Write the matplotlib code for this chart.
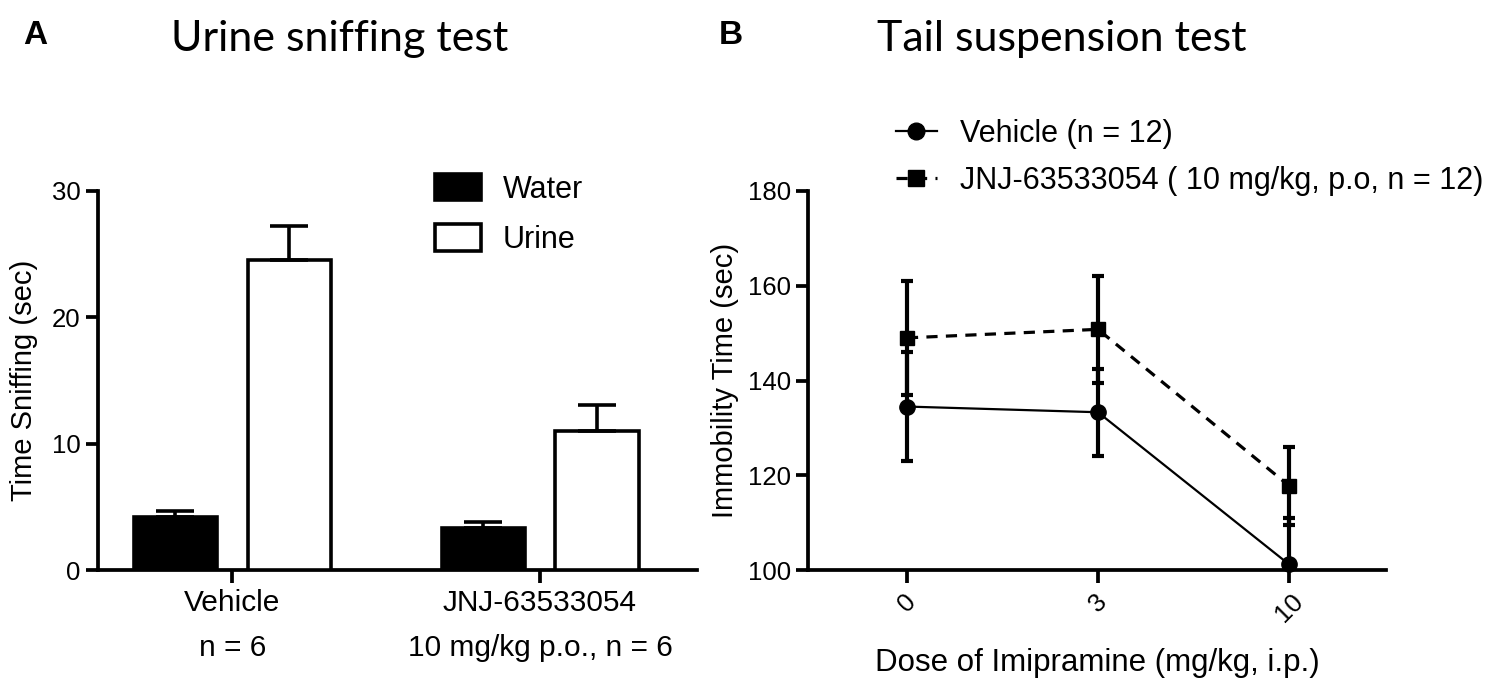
import matplotlib
matplotlib.use('Agg')
import matplotlib.pyplot as plt
import numpy as np
from matplotlib.lines import Line2D
from matplotlib.patches import Patch

# ---- data: panel A (urine sniffing) ----
groups = ['Vehicle\nn = 6', 'JNJ-63533054\n10 mg/kg p.o., n = 6']
water = [4.2, 3.3]
water_err = [0.5, 0.5]
urine = [24.5, 11.0]
urine_err = [2.7, 2.1]

# ---- data: panel B (tail suspension) ----
doses = ['0', '3', '10']
veh = [134.5, 133.3, 101.2]
veh_err = [11.5, 9.2, 9.8]
jnj = [149.0, 150.8, 117.8]
jnj_err = [12.0, 11.3, 8.2]

plt.rcParams['font.family'] = ['Liberation Sans', 'DejaVu Sans']
plt.rcParams['axes.linewidth'] = 2.7

fig = plt.figure(figsize=(15.09, 6.97), dpi=100)
W, H = 1509, 697

# ---------------- panel A ----------------
ax1 = fig.add_axes([98/W, 1 - 570/H, 599/W, 379/H])
x = np.arange(len(groups))
off, w = 0.185, 0.27
ekw = dict(elinewidth=2.6, capthick=2.6)
ax1.bar(x - off, water, w, color='black', edgecolor='black', linewidth=2.6,
        yerr=[[0, 0], water_err], capsize=14, error_kw=ekw, zorder=3)
ax1.bar(x + off, urine, w, color='white', edgecolor='black', linewidth=2.6,
        yerr=[[0, 0], urine_err], capsize=14, error_kw=ekw, zorder=3)
ax1.set_xlim(-0.436, 1.51)
ax1.set_ylim(0, 30)
ax1.set_yticks([0, 10, 20, 30])
ax1.set_xticks(x)
ax1.set_xticklabels(groups, fontsize=21.5)
for t in ax1.get_xticklabels():
    t.set_linespacing(1.75)
ax1.tick_params(axis='both', width=2.7, length=9, labelsize=18.5)
ax1.tick_params(axis='x', pad=5, labelsize=21.5)
ax1.spines['top'].set_visible(False)
ax1.spines['right'].set_visible(False)
ax1.set_ylabel('Time Sniffing (sec)', fontsize=21, labelpad=10)
ax1.legend(handles=[Patch(facecolor='black', edgecolor='black', linewidth=2.6),
                    Patch(facecolor='white', edgecolor='black', linewidth=2.6)],
           labels=['Water', 'Urine'], loc='upper left',
           bbox_to_anchor=(0.563, 1.045), frameon=False, fontsize=22,
           borderpad=0, borderaxespad=0,
           handlelength=1.5, handleheight=0.95, labelspacing=0.65, handletextpad=0.7)

# ---------------- panel B ----------------
ax2 = fig.add_axes([808/W, 1 - 570/H, 578/W, 379/H])
xd = np.arange(len(doses))
dash = (0, (3.5, 2.6))
ax2.errorbar(xd, veh, yerr=veh_err, fmt='none', ecolor='black', elinewidth=3,
             capsize=4.5, capthick=3, zorder=2)
ax2.errorbar(xd, jnj, yerr=jnj_err, fmt='none', ecolor='black', elinewidth=3,
             capsize=4.5, capthick=3, zorder=2)
ax2.plot(xd, veh, color='black', marker='o', markersize=11, linewidth=1.6,
         clip_on=False, zorder=3)
ax2.plot(xd, jnj, color='black', marker='s', markersize=10.5, linewidth=2.3,
         linestyle=dash, clip_on=False, zorder=3)
ax2.set_xlim(-0.518, 2.508)
ax2.set_ylim(100, 180)
ax2.set_yticks([100, 120, 140, 160, 180])
ax2.set_xticks(xd)
ax2.set_xticklabels(doses, rotation=45, ha='center')
ax2.tick_params(axis='both', width=2.7, length=9, labelsize=18.5)
ax2.tick_params(axis='x', pad=5)
ax2.spines['top'].set_visible(False)
ax2.spines['right'].set_visible(False)
ax2.set_ylabel('Immobility Time (sec)', fontsize=21, labelpad=6)
ax2.set_xlabel('Dose of Imipramine (mg/kg, i.p.)', fontsize=22.5, labelpad=15)
h = [Line2D([], [], color='black', marker='o', markersize=12, linewidth=1.6),
     Line2D([], [], color='black', marker='s', markersize=11.5, linewidth=2.3, linestyle=dash)]
ax2.legend(h, ['Vehicle (n = 12)', 'JNJ-63533054 ( 10 mg/kg, p.o, n = 12)'],
           loc='upper left', bbox_to_anchor=(0.152, 1.19), frameon=False,
           borderpad=0, borderaxespad=0, fontsize=22,
           handlelength=1.35, labelspacing=0.55, handletextpad=0.75)

# titles and panel letters
fig.text(340/W, 1 - 39/H, 'Urine sniffing test', fontsize=31, family='Lato',
         ha='center', va='center')
fig.text(1062/W, 1 - 39/H, 'Tail suspension test', fontsize=31, family='Lato',
         ha='center', va='center')
fig.text(35/W, 1 - 35/H, 'A', fontsize=24, fontweight='bold', ha='center', va='center')
fig.text(731/W, 1 - 35/H, 'B', fontsize=24, fontweight='bold', ha='center', va='center')

fig.savefig('out.png', dpi=100)
